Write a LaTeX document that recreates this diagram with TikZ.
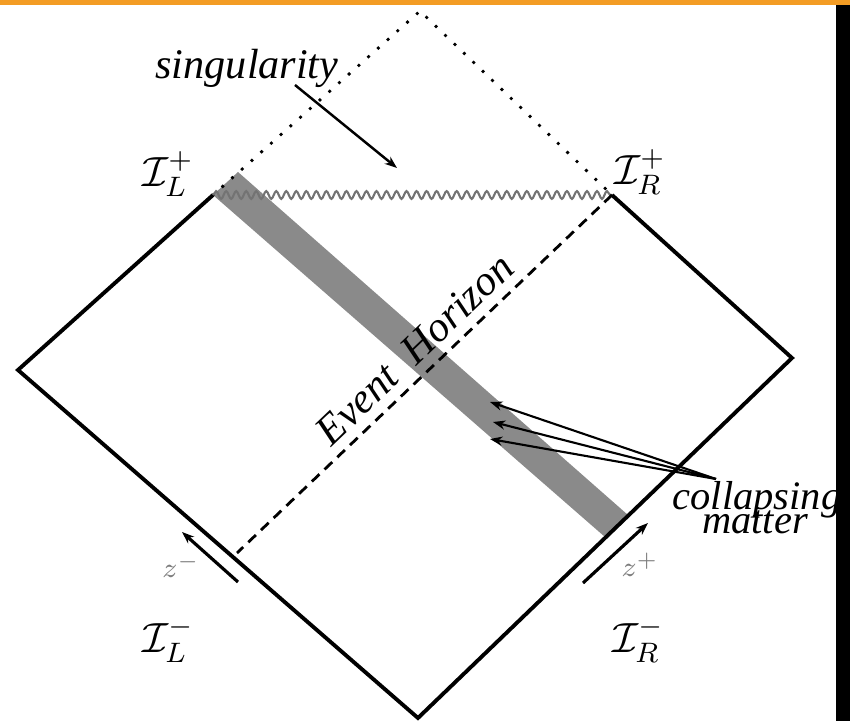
\documentclass[tikz,border=0pt]{standalone}
\usepackage{fontspec}
\setmainfont{Liberation Serif}
\usetikzlibrary{arrows.meta,decorations.pathmorphing}
\definecolor{bandgray}{RGB}{138,138,138}
\definecolor{wavegray}{RGB}{115,115,115}
\definecolor{zgray}{RGB}{125,125,125}
\definecolor{topbar}{RGB}{243,156,36}
\begin{document}
\begin{tikzpicture}[x=0.01cm,y=-0.01cm,
  edge/.style={line width=1.1pt,line join=miter},
  dots/.style={line width=1.1pt,line cap=round,dash pattern=on 0pt off 3.7pt},
  horizon/.style={line width=0.8pt,dash pattern=on 3pt off 2pt},
  ann/.style={font=\fontsize{12}{14}\selectfont\itshape},
  scri/.style={font=\fontsize{12}{14}\selectfont},
  zlab/.style={zgray,font=\fontsize{8}{9}\selectfont},
  tip/.style={-{Stealth[length=3.5pt,width=2.6pt]}}]
\useasboundingbox (0,0) rectangle (850,721);
\fill[topbar] (0,0) rectangle (850,5);
\coordinate (B) at (418,718);
\coordinate (L) at (18,370);
\coordinate (R) at (792,358);
\coordinate (TL) at (213,195);
\coordinate (TR) at (612,195);
\coordinate (T) at (420,11);
\coordinate (EH) at (237,553);
\fill[bandgray] (TL) -- (238,172) -- (628,515) -- (605,537) -- cycle;
\draw[edge] (TL) -- (L) -- (B) -- (R) -- (TR);
\draw[dots] (TL) -- (T) -- (TR);
\draw[wavegray,line width=0.6pt,decorate,decoration={snake,amplitude=1.1pt,segment length=2.85pt}] (TL) -- (TR);
\draw[horizon] (TR) -- (EH);
\node[ann,rotate=43.7,anchor=base] (eh) at (424,359) {Event\ \ Horizon};
\node[ann] (sing) at (247,68) {singularity};
\coordinate (s0) at (295,85);
\coordinate (s1) at (397,168);
\draw[tip,line width=0.7pt] (s0) -- (s1);
\node[scri] (ilp) at (168,174) {$\mathcal{I}_L^+$};
\node[scri] (irp) at (640,172) {$\mathcal{I}_R^+$};
\node[scri] (ilm) at (168,640) {$\mathcal{I}_L^-$};
\node[scri] (irm) at (638,640) {$\mathcal{I}_R^-$};
\node[zlab] (zm) at (181,566) {$z^-$};
\node[zlab] (zp) at (640,565) {$z^+$};
\coordinate (zm0) at (238,582);
\coordinate (zm1) at (182,532);
\coordinate (zp0) at (583,583);
\coordinate (zp1) at (648,523);
\draw[tip,line width=0.9pt] (zm0) -- (zm1);
\draw[tip,line width=0.9pt] (zp0) -- (zp1);
\coordinate (CM) at (716,479);
\coordinate (M1) at (490,402);
\coordinate (M2) at (493,422);
\coordinate (M3) at (490,439);
\foreach \m in {M1,M2,M3}{\draw[tip,line width=0.6pt] (CM) -- (\m);}
\node[ann,font=\fontsize{11.5}{13}\selectfont\itshape,anchor=base] (coll) at (757,510) {collapsing};
\node[ann,font=\fontsize{11.5}{13}\selectfont\itshape,anchor=base] (matt) at (755,534) {matter};
\fill[black] (836,5) rectangle (850,721);
\end{tikzpicture}
\end{document}
